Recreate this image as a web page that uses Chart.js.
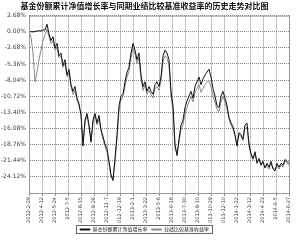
<!DOCTYPE html>
<html>
<head>
<meta charset="utf-8">
<script src="https://cdn.jsdelivr.net/npm/chart.js@4.4.0/dist/chart.umd.min.js"></script>
<style>
  html, body { margin: 0; padding: 0; background: #fff; }
  #wrap { width: 300px; height: 243px; }
</style>
</head>
<body>
<div id="wrap"><canvas id="c" width="300" height="243"></canvas></div>
<script>
// date labels under the x axis (21 gridlines)
const dateLabels = [
  "2012-2-29", "2012-4-12", "2012-5-24", "2012-7-5", "2012-8-15", "2012-9-26",
  "2012-11-7", "2012-12-19", "2013-2-1", "2013-3-22", "2013-5-6", "2013-6-18",
  "2013-7-30", "2013-9-10", "2013-10-29", "2013-12-10", "2014-1-22", "2014-3-12",
  "2014-4-23", "2014-6-5", "2014-6-27"
];

const yTicks = [2.68, 0, -2.68, -5.36, -8.04, -10.72, -13.40, -16.08, -18.76, -21.44, -24.12, -26.80];

// 基金份额累计净值增长率 (%)
const fundValues = [
  0.00, 0.00, -0.02, 0.01, 0.13, 0.15, 0.12, 0.29, 0.30, 1.25,
  -0.35, -1.46, -0.83, -2.74, -1.94, -4.01, -3.54, -5.61, -4.65, -7.20,
  -6.25, -8.80, -9.91, -9.12, -11.03, -11.98, -13.90, -19.00, -14.69, -13.58,
  -15.49, -18.36, -14.69, -13.58, -15.17, -13.90, -16.29, -17.40, -18.68, -19.48,
  -21.55, -23.78, -24.74, -21.07, -17.09, -12.30, -10.71, -10.39, -8.32, -6.72,
  -5.93, -3.54, -1.94, -3.06, -4.65, -3.54, -7.20, -9.12, -8.32, -9.91,
  -9.12, -9.91, -10.39, -8.80, -8.32, -9.12, -7.52, -4.01, -3.06, -3.54,
  -4.65, -9.91, -12.30, -18.68, -20.59, -17.88, -15.49, -14.69, -12.62, -11.51,
  -10.71, -9.91, -11.03, -9.12, -8.32, -7.52, -8.80, -7.84, -7.20, -6.72,
  -6.25, -7.52, -9.43, -10.71, -12.30, -12.62, -10.71, -9.91, -11.03, -12.30,
  -14.22, -15.17, -15.81, -17.09, -19.00, -16.77, -17.09, -17.88, -15.49, -15.17,
  -18.68, -20.27, -21.07, -19.95, -21.87, -21.07, -22.19, -21.55, -22.66, -21.87,
  -22.50, -21.55, -22.82, -23.14, -21.87, -22.50, -21.87, -22.19, -21.23, -21.55,
  -21.87
];

// 业绩比较基准收益率 (%)
const benchValues = [
  0.00, -0.83, -3.54, -8.32, -6.72, -4.65, -3.06, -1.46, -0.51, 0.45,
  -0.83, -1.94, -1.46, -3.06, -2.74, -4.33, -4.01, -5.93, -5.29, -7.52,
  -6.88, -9.12, -10.39, -9.75, -11.35, -12.30, -13.58, -18.68, -15.17, -13.90,
  -15.81, -18.04, -15.17, -13.90, -15.49, -14.53, -16.45, -17.88, -19.00, -19.95,
  -21.87, -24.26, -24.42, -21.55, -17.88, -13.10, -11.35, -10.71, -9.12, -7.52,
  -6.57, -4.33, -2.74, -3.70, -5.29, -4.33, -7.84, -9.75, -8.80, -10.39,
  -9.75, -10.39, -11.03, -9.43, -9.12, -9.75, -8.16, -4.97, -4.01, -4.33,
  -5.61, -10.71, -13.26, -19.48, -20.27, -18.36, -16.29, -15.49, -13.58, -12.62,
  -11.67, -10.71, -11.67, -10.07, -9.43, -8.80, -10.07, -9.43, -8.80, -8.32,
  -8.16, -9.12, -10.71, -11.67, -12.94, -13.26, -11.67, -10.71, -11.67, -12.94,
  -14.53, -15.49, -16.13, -17.40, -18.68, -17.09, -17.40, -18.04, -16.13, -15.81,
  -19.00, -20.59, -21.23, -20.27, -21.55, -21.23, -21.87, -21.87, -22.50, -22.19,
  -22.82, -21.87, -22.66, -22.82, -22.19, -22.82, -22.19, -22.50, -21.55, -21.87,
  -22.19
];

const lastIdx = fundValues.length - 1;
const xStep = lastIdx / (dateLabels.length - 1);

// frame round the plot + box round the legend
const framePlugin = {
  id: "frame",
  afterDraw(chart) {
    const ctx = chart.ctx;
    const a = chart.chartArea;
    ctx.save();
    ctx.strokeStyle = "#999";
    ctx.lineWidth = 1;
    ctx.strokeRect(a.left + 0.5, a.top + 0.5, a.right - a.left, a.bottom - a.top);
    const boxes = chart.legend.legendHitBoxes;
    if (boxes && boxes.length) {
      let l = Infinity, r = -Infinity, t = Infinity, b = -Infinity;
      boxes.forEach(h => {
        l = Math.min(l, h.left); r = Math.max(r, h.left + h.width);
        t = Math.min(t, h.top); b = Math.max(b, h.top + h.height);
      });
      ctx.strokeStyle = "#666";
      ctx.strokeRect(Math.round(l) - 3.5, Math.round(t) - 1.5, r - l + 7, b - t + 3);
    }
    ctx.restore();
  }
};

new Chart(document.getElementById("c").getContext("2d"), {
  type: "line",
  data: {
    datasets: [
      {
        label: "基金份额累计净值增长率",
        data: fundValues.map((v, i) => ({ x: i, y: v })),
        borderColor: "#111",
        backgroundColor: "#111",
        borderWidth: 1,
        pointRadius: 0,
        tension: 0
      },
      {
        label: "业绩比较基准收益率",
        data: benchValues.map((v, i) => ({ x: i, y: v })),
        borderColor: "#8a8a8a",
        backgroundColor: "#8a8a8a",
        borderWidth: 1,
        pointRadius: 0,
        tension: 0
      }
    ]
  },
  options: {
    responsive: false,
    animation: false,
    devicePixelRatio: 1,
    layout: { padding: { left: 0, right: 11, top: 0, bottom: 1 } },
    plugins: {
      title: {
        display: true,
        text: "基金份额累计净值增长率与同期业绩比较基准收益率的历史走势对比图",
        color: "#111",
        font: { family: "Noto Sans CJK SC", size: 8, weight: "bold", lineHeight: 1.2 },
        padding: { top: 1, bottom: 5 }
      },
      legend: {
        position: "bottom",
        labels: {
          boxWidth: 10,
          boxHeight: 1,
          padding: 4,
          color: "#222",
          font: { family: "Noto Sans CJK SC", size: 5 }
        }
      },
      tooltip: { enabled: false }
    },
    scales: {
      x: {
        type: "linear",
        min: 0,
        max: lastIdx,
        afterBuildTicks: s => { s.ticks = dateLabels.map((d, i) => ({ value: i * xStep })); },
        afterFit: s => { s.height = 30; },
        ticks: {
          minRotation: 90,
          maxRotation: 90,
          padding: 1,
          color: "#333",
          font: { family: "DejaVu Sans", size: 5 },
          callback: (v, i) => dateLabels[i]
        },
        grid: { color: "#888", tickLength: 3, drawTicks: true },
        border: { color: "#777", dash: [1, 1] }
      },
      y: {
        min: yTicks[yTicks.length - 1],
        max: yTicks[0],
        afterBuildTicks: s => { s.ticks = yTicks.map(v => ({ value: v })); },
        afterFit: s => { s.width = 29; },
        ticks: {
          padding: 3,
          color: "#444",
          font: { family: "DejaVu Sans", size: 6 },
          callback: v => (v === yTicks[yTicks.length - 1] ? "" : v.toFixed(2) + "%")
        },
        grid: { color: "#888", tickLength: 0 },
        border: { color: "#777", dash: [1, 1] }
      }
    }
  },
  plugins: [framePlugin]
});
</script>
</body>
</html>
